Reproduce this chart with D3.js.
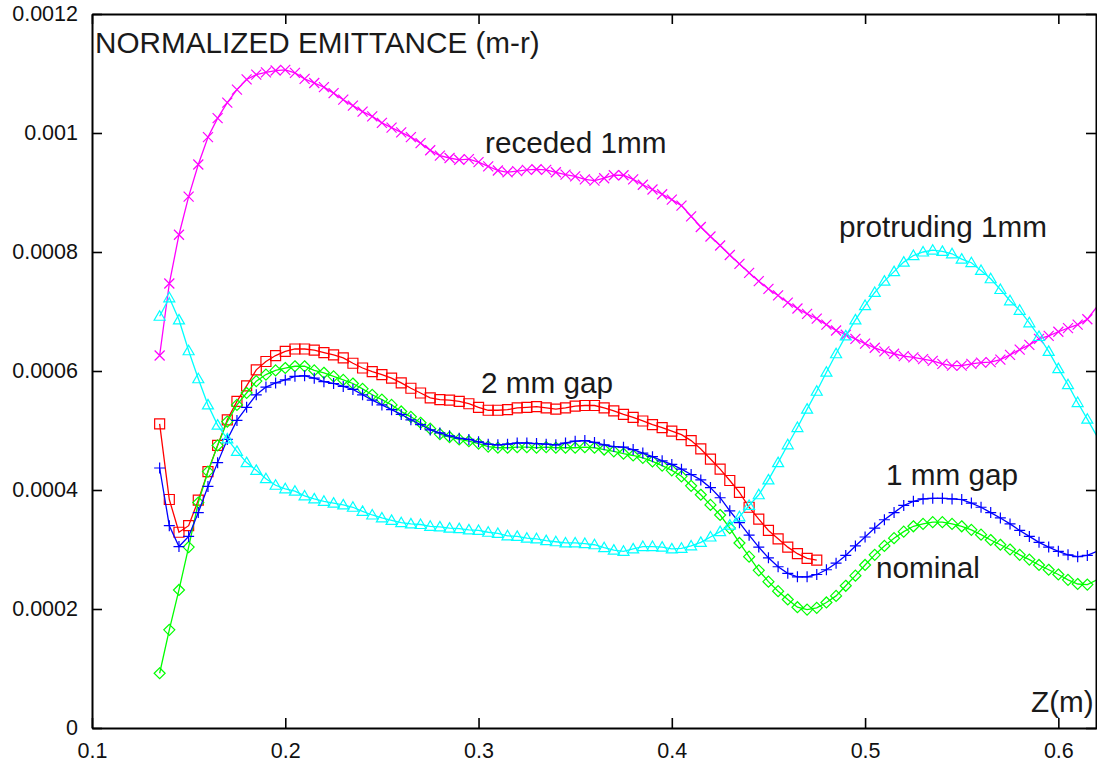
<!DOCTYPE html>
<html>
<head>
<meta charset="utf-8">
<script src="https://cdn.jsdelivr.net/npm/d3@7"></script>
<style>
  html, body { margin: 0; padding: 0; background: #fff; }
  svg { display: block; }
  text { font-family: "Liberation Sans", Arial, Helvetica, sans-serif; }
</style>
</head>
<body>
<svg id="chart" width="1097" height="765"></svg>
<script>
// ---- data (emittance values in units of 1e-4 m-rad) ----
const UNIT = 1e-4;
const zPos = [0.135,0.14,0.145,0.15,0.155,0.16,0.165,0.17,0.175,0.18,0.185,0.19,0.195,0.2,0.205,0.21,0.215,0.22,0.225,0.23,0.235,0.24,0.245,0.25,0.255,0.26,0.265,0.27,0.275,0.28,0.285,0.29,0.295,0.3,0.305,0.31,0.315,0.32,0.325,0.33,0.335,0.34,0.345,0.35,0.355,0.36,0.365,0.37,0.375,0.38,0.385,0.39,0.395,0.4,0.405,0.41,0.415,0.42,0.425,0.43,0.435,0.44,0.445,0.45,0.455,0.46,0.465,0.47,0.475,0.48,0.485,0.49,0.495,0.5,0.505,0.51,0.515,0.52,0.525,0.53,0.535,0.54,0.545,0.55,0.555,0.56,0.565,0.57,0.575,0.58,0.585,0.59,0.595,0.6,0.605,0.61,0.615,0.62];

const receded1mm = [6.26,7.47,8.29,8.93,9.47,9.93,10.25,10.51,10.73,10.90,10.98,11.02,11.05,11.06,11.01,10.91,10.84,10.77,10.67,10.56,10.46,10.36,10.28,10.17,10.09,10.01,9.93,9.83,9.71,9.62,9.58,9.55,9.56,9.51,9.44,9.37,9.34,9.36,9.38,9.39,9.38,9.34,9.30,9.27,9.22,9.20,9.24,9.29,9.29,9.22,9.13,9.05,8.97,8.88,8.78,8.60,8.42,8.26,8.11,7.95,7.80,7.65,7.51,7.38,7.27,7.15,7.05,6.96,6.88,6.78,6.68,6.61,6.54,6.46,6.39,6.33,6.29,6.25,6.23,6.20,6.17,6.12,6.09,6.09,6.12,6.14,6.15,6.19,6.27,6.36,6.44,6.54,6.59,6.66,6.72,6.78,6.87,7.08];

const protruding1mm = [6.92,7.23,6.86,6.34,5.87,5.43,5.09,4.86,4.65,4.46,4.33,4.19,4.08,4.02,3.98,3.90,3.85,3.81,3.78,3.75,3.71,3.64,3.58,3.53,3.49,3.45,3.43,3.42,3.39,3.38,3.36,3.35,3.33,3.32,3.29,3.27,3.23,3.22,3.19,3.18,3.15,3.13,3.11,3.11,3.10,3.08,3.03,2.99,2.97,3.01,3.05,3.05,3.04,3.01,3.02,3.06,3.12,3.21,3.30,3.41,3.55,3.74,3.92,4.17,4.46,4.76,5.05,5.36,5.66,5.98,6.29,6.59,6.86,7.10,7.32,7.51,7.67,7.83,7.94,8.00,8.03,8.01,7.97,7.88,7.82,7.69,7.55,7.37,7.18,7.02,6.81,6.58,6.33,6.04,5.77,5.47,5.19,4.90];

const gap2mm = [5.11,3.84,3.29,3.40,3.83,4.31,4.75,5.18,5.49,5.75,6.02,6.16,6.26,6.33,6.37,6.37,6.35,6.31,6.27,6.22,6.13,6.05,5.99,5.94,5.88,5.80,5.71,5.63,5.55,5.52,5.51,5.49,5.45,5.39,5.34,5.34,5.35,5.38,5.39,5.40,5.38,5.36,5.38,5.41,5.42,5.42,5.38,5.33,5.27,5.22,5.16,5.10,5.05,4.99,4.93,4.83,4.69,4.52,4.35,4.16,3.96,3.71,3.51,3.32,3.18,3.04,2.93,2.85,2.82];

const gap1mm = [4.37,3.40,3.05,3.22,3.62,4.06,4.46,4.85,5.17,5.39,5.60,5.73,5.80,5.85,5.91,5.92,5.88,5.82,5.79,5.74,5.69,5.60,5.51,5.43,5.35,5.27,5.18,5.10,5.01,4.96,4.91,4.87,4.85,4.81,4.77,4.76,4.77,4.79,4.79,4.78,4.77,4.76,4.79,4.82,4.83,4.80,4.76,4.73,4.72,4.68,4.62,4.56,4.49,4.43,4.35,4.26,4.17,4.04,3.87,3.65,3.45,3.24,3.04,2.86,2.71,2.60,2.54,2.54,2.58,2.66,2.77,2.90,3.06,3.21,3.36,3.50,3.62,3.74,3.81,3.85,3.86,3.86,3.85,3.84,3.78,3.71,3.62,3.53,3.43,3.32,3.22,3.12,3.04,2.97,2.91,2.88,2.90,2.97];

const nominal = [0.92,1.65,2.32,3.04,3.79,4.31,4.75,5.15,5.43,5.63,5.83,5.94,6.01,6.05,6.08,6.08,6.01,5.97,5.91,5.85,5.79,5.70,5.60,5.52,5.43,5.32,5.23,5.13,5.03,4.94,4.89,4.85,4.82,4.78,4.73,4.71,4.71,4.72,4.72,4.71,4.72,4.71,4.71,4.71,4.72,4.71,4.68,4.65,4.61,4.58,4.54,4.48,4.41,4.33,4.23,4.07,3.92,3.75,3.58,3.36,3.11,2.88,2.65,2.46,2.30,2.16,2.03,1.99,2.02,2.11,2.22,2.39,2.56,2.74,2.91,3.06,3.19,3.30,3.39,3.43,3.46,3.46,3.43,3.39,3.33,3.25,3.16,3.08,3.00,2.91,2.83,2.74,2.66,2.58,2.49,2.42,2.41,2.49];

const xTicks = [0.1, 0.2, 0.3, 0.4, 0.5, 0.6];
const xTickLabels = ["0.1", "0.2", "0.3", "0.4", "0.5", "0.6"];
const yTicks = [0, 0.0002, 0.0004, 0.0006, 0.0008, 0.001, 0.0012];
const yTickLabels = ["0", "0.0002", "0.0004", "0.0006", "0.0008", "0.001", "0.0012"];

const seriesNames = ["2 mm gap", "nominal", "1 mm gap", "receded 1mm", "protruding 1mm"];
const seriesValues = [gap2mm, nominal, gap1mm, receded1mm, protruding1mm];
const seriesColors = ["#ff0000", "#00ff00", "#0000ff", "#ff00ff", "#00ffff"];
const seriesMarkers = ["square", "diamond", "plus", "cross", "triangle"];

const title = "NORMALIZED EMITTANCE (m-r)";
const xLabel = "Z(m)";

// ---- chart ----
const L = 92, R = 1097, T = 14, B = 728;
const svg = d3.select("#chart");

const x = d3.scaleLinear().domain([0.1, 0.62]).range([L, R]);
const y = d3.scaleLinear().domain([0, 0.0012]).range([B, T]);

svg.append("defs").append("clipPath").attr("id", "plotclip")
  .append("rect").attr("x", L).attr("y", T).attr("width", R - L).attr("height", B - T);

const markerPath = {
  square:   "M-5,-5L5,-5L5,5L-5,5Z",
  diamond:  "M0,-5.5L5.5,0L0,5.5L-5.5,0Z",
  plus:     "M-5.5,0L5.5,0M0,-5.5L0,5.5",
  cross:    "M-5,-5L5,5M-5,5L5,-5",
  triangle: "M0,-5.5L5.5,4L-5.5,4Z"
};

const plot = svg.append("g").attr("clip-path", "url(#plotclip)");
const line = d3.line().x(d => x(d.z)).y(d => y(d.v));

seriesValues.forEach((vals, k) => {
  const pts = vals.map((v, i) => ({ z: zPos[i], v: v * UNIT }));
  const g = plot.append("g").attr("class", "series");
  g.append("path").datum(pts)
    .attr("d", line)
    .attr("fill", "none")
    .attr("stroke", seriesColors[k])
    .attr("stroke-width", 1.3);
  g.selectAll("path.mk")
    .data(pts.filter(d => x(d.z) < R - 8))
    .join("path")
    .attr("class", "mk")
    .attr("transform", d => `translate(${x(d.z)},${y(d.v)})`)
    .attr("d", markerPath[seriesMarkers[k]])
    .attr("fill", "none")
    .attr("stroke", seriesColors[k])
    .attr("stroke-width", 1.2);
});

// axes
function styleAxis(g) {
  g.select(".domain").attr("stroke", "#000").attr("stroke-width", 2);
  g.selectAll(".tick line").attr("stroke", "#000").attr("stroke-width", 1.6);
  g.selectAll(".tick text").attr("fill", "#111").style("font-size", "21.5px")
    .style("font-family", '"Liberation Sans", Arial, sans-serif');
}

svg.append("g").attr("transform", `translate(0,${B})`)
  .call(d3.axisBottom(x).tickValues(xTicks).tickFormat((d, i) => xTickLabels[i])
    .tickSizeInner(-10).tickSizeOuter(0).tickPadding(15))
  .call(styleAxis);

svg.append("g").attr("transform", `translate(0,${T})`)
  .call(d3.axisTop(x).tickValues(xTicks).tickFormat("")
    .tickSizeInner(-10).tickSizeOuter(0))
  .call(styleAxis);

svg.append("g").attr("transform", `translate(${L},0)`)
  .call(d3.axisLeft(y).tickValues(yTicks).tickFormat((d, i) => yTickLabels[i])
    .tickSizeInner(-10).tickSizeOuter(0).tickPadding(14))
  .call(styleAxis);

svg.append("g").attr("transform", `translate(${R - 1},0)`)
  .call(d3.axisRight(y).tickValues(yTicks).tickFormat("")
    .tickSizeInner(-10).tickSizeOuter(0))
  .call(styleAxis);

// labels
const labels = [
  { t: title, x: 95, y: 53 },
  { t: seriesNames[3], x: 485, y: 153 },
  { t: seriesNames[4], x: 839, y: 237 },
  { t: seriesNames[0], x: 481, y: 393 },
  { t: seriesNames[2], x: 886, y: 485 },
  { t: seriesNames[1], x: 876, y: 578 },
  { t: xLabel, x: 1031, y: 712 }
];
svg.append("g").selectAll("text").data(labels).join("text")
  .attr("x", d => d.x).attr("y", d => d.y)
  .attr("fill", "#1a1a1a")
  .style("font-size", "29.7px")
  .text(d => d.t);
</script>
</body>
</html>
